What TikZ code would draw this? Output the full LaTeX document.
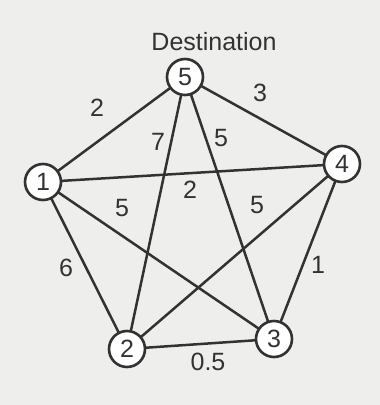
\documentclass[tikz,border=0pt]{standalone}
\usepackage{fontspec}
\setmainfont{Liberation Sans}
\definecolor{bg}{RGB}{238,238,236}
\definecolor{ink}{RGB}{50,50,50}
\begin{document}
\begin{tikzpicture}[x=1pt,y=-1pt,
  vert/.style={circle,draw=ink,fill=white,line width=2.6pt,minimum size=36pt,inner sep=0pt,text=ink,font=\fontsize{25}{28}\selectfont},
  edge/.style={draw=ink,line width=2.5pt},
  wlabel/.style={text=ink,inner sep=0pt,font=\fontsize{25}{28}\selectfont}]
\fill[bg] (0,0) rectangle (380,405);
\useasboundingbox (0,0) rectangle (380,405);
\coordinate (p5) at (185,77);
\coordinate (p1) at (43,182);
\coordinate (p4) at (342,164);
\coordinate (p2) at (127,349);
\coordinate (p3) at (274,339);
\path[edge] (p5) -- (p1);
\path[edge] (p5) -- (p4);
\path[edge] (p5) -- (p2);
\path[edge] (p5) -- (p3);
\path[edge] (p1) -- (p4);
\path[edge] (p1) -- (p3);
\path[edge] (p1) -- (p2);
\path[edge] (p4) -- (p2);
\path[edge] (p4) -- (p3);
\path[edge] (p2) -- (p3);
\node[vert] (n5) at (p5) {5};
\node[vert] (n1) at (p1) {1};
\node[vert] (n4) at (p4) {4};
\node[vert] (n2) at (p2) {2};
\node[vert] (n3) at (p3) {3};
\node[wlabel] (dest) at (214,42) {Destination};
\node[wlabel] (l51) at (97,108) {2};
\node[wlabel] (l54) at (260,93) {3};
\node[wlabel] (l52) at (158,142) {7};
\node[wlabel] (l53) at (221,138) {5};
\node[wlabel] (l14) at (190,190) {2};
\node[wlabel] (l13) at (122,208) {5};
\node[wlabel] (l42) at (257,205) {5};
\node[wlabel] (l12) at (66,268) {6};
\node[wlabel] (l43) at (318,265) {1};
\node[wlabel] (l23) at (208,362) {0.5};
\end{tikzpicture}
\end{document}
